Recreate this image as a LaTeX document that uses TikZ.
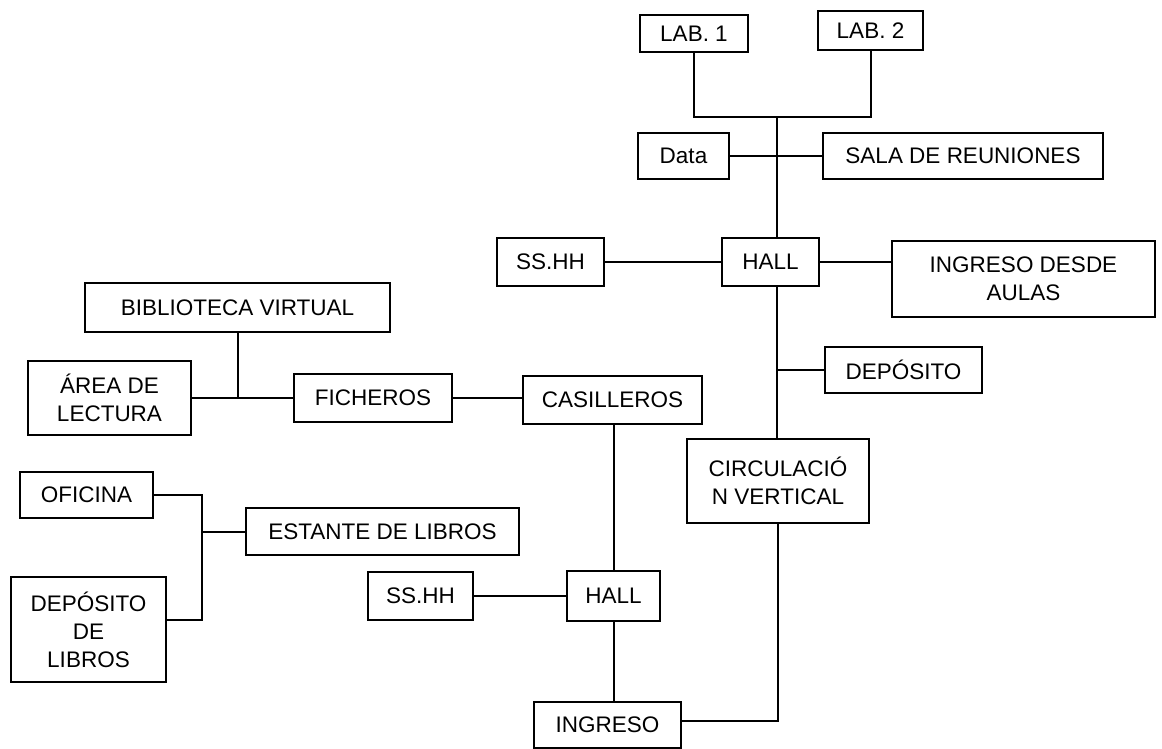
\documentclass[tikz,border=0pt]{standalone}
\usepackage{fontspec}
\setmainfont{Liberation Sans}
\tikzset{
	room/.style={draw,line width=2.4pt,inner sep=2pt,align=center,font=\fontsize{22.5}{28}\selectfont},
	link/.style={line width=2pt}
}
\begin{document}
\begin{tikzpicture}[x=1pt,y=-1pt]
			\useasboundingbox (0,0) rectangle (1162,749);
			% upper block
			\node[room,minimum width=108pt,minimum height=37pt] (lab1) at (694,33.5) {LAB. 1};
			\node[room,minimum width=105pt,minimum height=39pt] (lab2) at (870.5,30.5) {LAB. 2};
			\node[room,minimum width=91pt,minimum height=46pt] (data) at (683.5,156) {Data};
			\node[room,minimum width=280pt,minimum height=46pt] (sala) at (963,156) {SALA DE REUNIONES};
			\node[room,minimum width=107pt,minimum height=48pt] (sshA) at (550.5,262) {SS.HH};
			\node[room,minimum width=97pt,minimum height=48pt] (hallA) at (770.5,262) {HALL};
			\node[room,minimum width=263pt,minimum height=76pt] (ingA) at (1023.5,279) {INGRESO DESDE\\AULAS};
			\node[room,minimum width=157pt,minimum height=46pt] (depo) at (903.5,370) {DEPÓSITO};
			\node[room,minimum width=182pt,minimum height=84pt] (circ) at (778,481) {CIRCULACIÓ\\N VERTICAL};
			% lower block
			\node[room,minimum width=305pt,minimum height=49pt] (biblio) at (237.5,307.5) {BIBLIOTECA VIRTUAL};
			\node[room,minimum width=163pt,minimum height=74pt] (area) at (109.5,398) {ÁREA DE\\LECTURA};
			\node[room,minimum width=158pt,minimum height=48pt] (fich) at (373,398) {FICHEROS};
			\node[room,minimum width=179pt,minimum height=48pt] (casil) at (612.5,400) {CASILLEROS};
			\node[room,minimum width=133pt,minimum height=46pt] (ofic) at (86.5,495) {OFICINA};
			\node[room,minimum width=273pt,minimum height=47pt] (estante) at (382.5,531.5) {ESTANTE DE LIBROS};
			\node[room,minimum width=155pt,minimum height=105pt] (deplib) at (88.5,629.5) {DEPÓSITO\\DE\\LIBROS};
			\node[room,minimum width=105pt,minimum height=48pt] (sshB) at (420.5,596) {SS.HH};
			\node[room,minimum width=93pt,minimum height=50pt] (hallB) at (613.5,596) {HALL};
			\node[room,minimum width=147pt,minimum height=46pt] (ing) at (607.5,725) {INGRESO};
			\coordinate (jlab) at (777,117);
			% connectors
			\draw[link] (lab1.south) |- (jlab);
			\draw[link] (lab2.south) |- (jlab);
			\draw[link] (jlab) -- (jlab |- hallA.north);
			\draw[link] (data.east) -- (sala.west);
			\draw[link] (sshA.east) -- (hallA.west);
			\draw[link] (hallA.east) -- (hallA.east -| ingA.west);
			\draw[link] (jlab |- hallA.south) -- (jlab |- circ.north);
			\draw[link] (depo.west) -- (depo.west -| jlab);
			\draw[link] (circ.south) |- ([yshift=4pt]ing.east);
			\draw[link] (hallB.south) -- (hallB.south |- ing.north);
			\draw[link] (hallB.north) -- (hallB.north |- casil.south);
			\draw[link] (sshB.east) -- (sshB.east -| hallB.west);
			\draw[link] (fich.east) -- (fich.east -| casil.west);
			\draw[link] (fich.west) -- (area.east);
			\draw[link] (biblio.south) -- (biblio.south |- fich.west);
			\draw[link] (ofic.east) -- ++(48,0) coordinate (jofi) |- ([yshift=10pt]deplib.east);
			\draw[link] (estante.west) -- (estante.west -| jofi);
		\end{tikzpicture}
\end{document}
